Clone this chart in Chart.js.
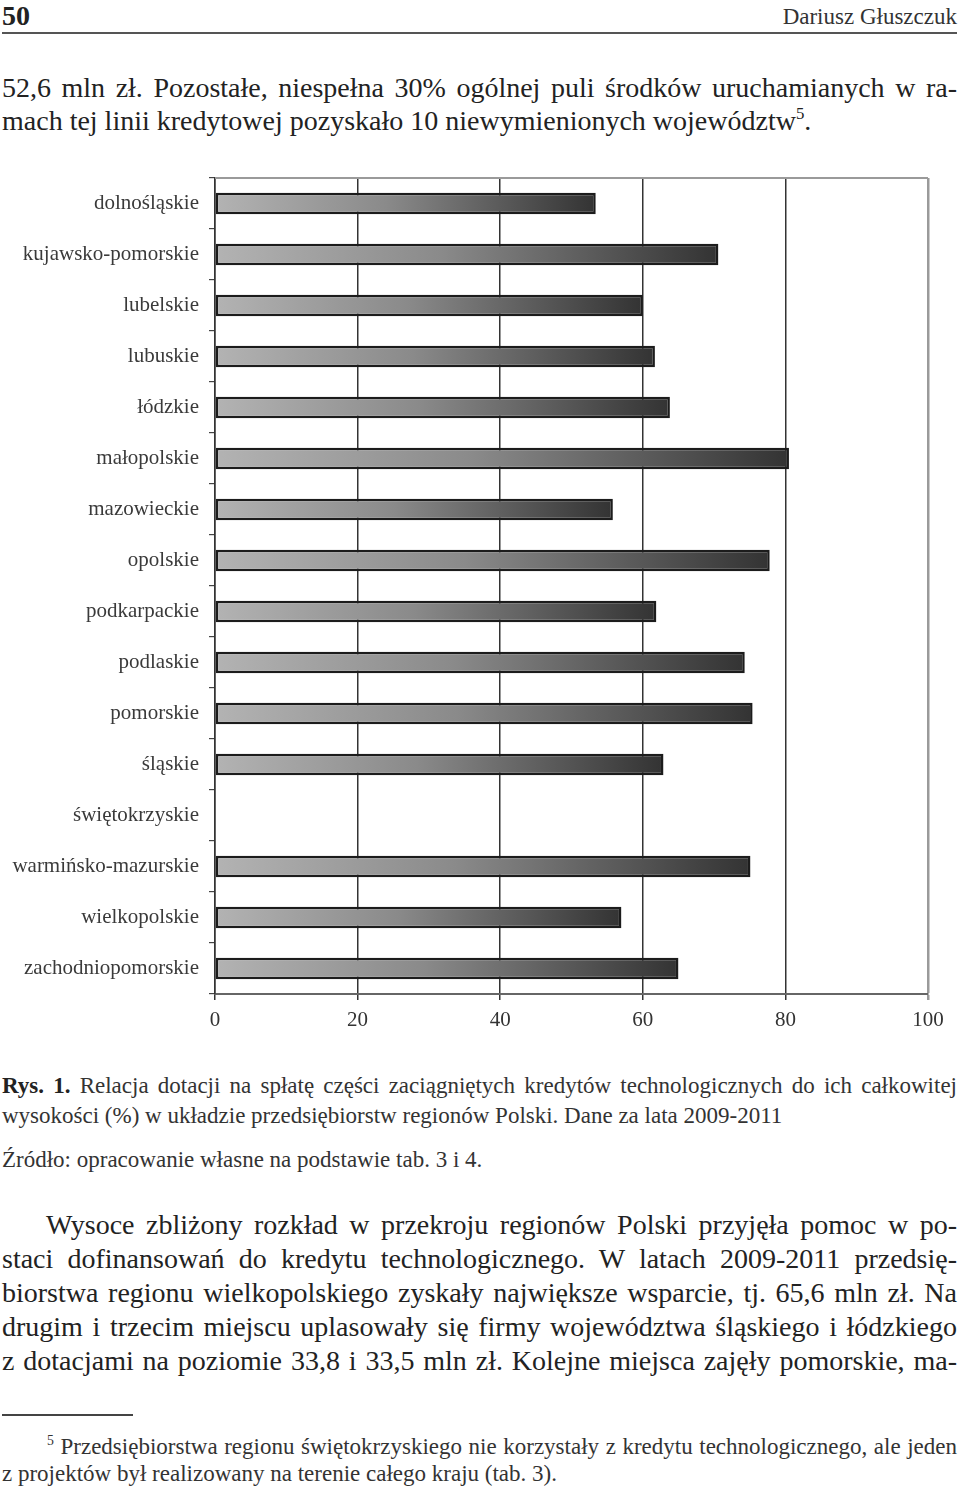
<!DOCTYPE html>
<html>
<head>
<meta charset="utf-8">
<script src="https://cdn.jsdelivr.net/npm/chart.js@4.4.1/dist/chart.umd.min.js"></script>
<style>
  body { margin: 0; background: #fff; width: 960px; height: 1492px; position: relative; overflow: hidden;
         font-family: "Liberation Serif", "Times New Roman", serif; color: #222; }
  .ln { position: absolute; left: 2px; width: 955px; white-space: nowrap; font-family: "Liberation Serif", serif; }
  .body { font-size: 28px; line-height: 34px; }
  .small { font-size: 23px; line-height: 30px; color: #333; }
  .foot { font-size: 23px; line-height: 27px; color: #333; }
  sup { font-size: 60%; vertical-align: 0.65em; line-height: 0; }
  #chartBox { position: absolute; left: 0; top: 170px; width: 960px; height: 880px; }
</style>
</head>
<body>
<div class="ln" style="top:0px; font-size:28px; line-height:32px; font-weight:bold; color:#222;">50</div>
<div class="ln" style="top:1px; font-size:23px; line-height:32px; text-align:right; color:#333;">Dariusz Głuszczuk</div>
<div style="position:absolute; left:2px; top:32px; width:955px; height:2px; background:#555;"></div>

<div class="ln body j" style="top:71px;">52,6 mln zł. Pozostałe, niespełna 30% ogólnej puli środków uruchamianych w ra-</div>
<div class="ln body" style="top:104px;">mach tej linii kredytowej pozyskało 10 niewymienionych województw<sup>5</sup>.</div>

<div id="chartBox"><canvas id="relChart" width="960" height="880"></canvas></div>

<div class="ln small j" style="top:1071px;"><b style="color:#222;">Rys. 1.</b> Relacja dotacji na spłatę części zaciągniętych kredytów technologicznych do ich całkowitej</div>
<div class="ln small" style="top:1101px;">wysokości (%) w układzie przedsiębiorstw regionów Polski. Dane za lata 2009-2011</div>
<div class="ln small" style="top:1145px;">Źródło: opracowanie własne na podstawie tab. 3 i 4.</div>

<div class="ln body j" style="top:1208px; left:46px; width:911px;">Wysoce zbliżony rozkład w przekroju regionów Polski przyjęła pomoc w po-</div>
<div class="ln body j" style="top:1242px;">staci dofinansowań do kredytu technologicznego. W latach 2009-2011 przedsię-</div>
<div class="ln body j" style="top:1276px;">biorstwa regionu wielkopolskiego zyskały największe wsparcie, tj. 65,6 mln zł. Na</div>
<div class="ln body j" style="top:1310px;">drugim i trzecim miejscu uplasowały się firmy województwa śląskiego i łódzkiego</div>
<div class="ln body j" style="top:1344px;">z dotacjami na poziomie 33,8 i 33,5 mln zł. Kolejne miejsca zajęły pomorskie, ma-</div>

<div style="position:absolute; left:2px; top:1414px; width:131px; height:2px; background:#444;"></div>
<div class="ln foot j" style="top:1433px; left:47px; width:910px;"><sup>5</sup> Przedsiębiorstwa regionu świętokrzyskiego nie korzystały z kredytu technologicznego, ale jeden</div>
<div class="ln foot" style="top:1460px;">z projektów był realizowany na terenie całego kraju (tab. 3).</div>

<script>
var regions = ["dolnośląskie", "kujawsko-pomorskie", "lubelskie", "lubuskie", "łódzkie", "małopolskie",
  "mazowieckie", "opolskie", "podkarpackie", "podlaskie", "pomorskie", "śląskie", "świętokrzyskie",
  "warmińsko-mazurskie", "wielkopolskie", "zachodniopomorskie"];
// relacja dotacji do kredytu (%), świętokrzyskie bez kredytu
var shares = [53.4, 70.6, 60.0, 61.7, 63.8, 80.5, 55.8, 77.8, 61.9, 74.3, 75.4, 62.9, null, 75.1, 57.0, 65.0];
var xTicks = [0, 20, 40, 60, 80, 100];

// justify single lines by hand (word spacing)
document.querySelectorAll(".j").forEach(function (el) {
  el.innerHTML = "<span>" + el.innerHTML + "</span>";
  var w = el.firstChild.getBoundingClientRect().width;
  var n = (el.textContent.match(/ /g) || []).length;
  if (n > 0) el.style.wordSpacing = ((el.clientWidth - w) / n) + "px";
});

function barFill(c) {
  var chart = c.chart;
  if (!chart.chartArea || c.raw == null) return "#777";
  var xs = chart.scales.x;
  var x0 = xs.getPixelForValue(0);
  var x1 = xs.getPixelForValue(c.raw);
  var g = chart.ctx.createLinearGradient(x0, 0, x1, 0);
  g.addColorStop(0, "#b3b3b3");
  g.addColorStop(0.45, "#8a8a8a");
  g.addColorStop(1, "#333333");
  return g;
}

var topFrame = {
  id: "topFrame",
  afterDraw: function (chart) {
    var a = chart.chartArea, ctx = chart.ctx;
    ctx.save();
    ctx.strokeStyle = "#9a9a9a";
    ctx.lineWidth = 2;
    ctx.beginPath();
    ctx.moveTo(a.left, a.top);
    ctx.lineTo(a.right, a.top);
    ctx.stroke();
    ctx.restore();
  }
};

var ctx = document.getElementById("relChart").getContext("2d");
var relChart = new Chart(ctx, {
  type: "bar",
  data: {
    labels: regions,
    datasets: [{
      data: shares,
      backgroundColor: barFill,
      borderColor: "#1c1c1c",
      borderWidth: 2.5,
      borderSkipped: false,
      barPercentage: 0.85,
      categoryPercentage: 0.5
    }]
  },
  options: {
    indexAxis: "y",
    responsive: false,
    animation: false,
    devicePixelRatio: 1,
    layout: { padding: { top: 8, right: 32, left: 0, bottom: 0 } },
    plugins: { legend: { display: false }, tooltip: { enabled: false } },
    scales: {
      x: {
        min: 0, max: 100,
        afterBuildTicks: function (s) { s.ticks = xTicks.map(function (v) { return { value: v }; }); },
        afterFit: function (s) { s.height = 56; },
        grid: {
          color: function (c) { return c.tick && c.tick.value === 100 ? "#9a9a9a" : "#333"; },
          lineWidth: function (c) { return c.tick && c.tick.value === 100 ? 2.5 : 1.5; },
          tickLength: 6
        },
        border: { color: "#666", width: 2 },
        ticks: { color: "#333", padding: 8, font: { family: "Liberation Serif", size: 21 } }
      },
      y: {
        afterFit: function (s) { s.width = 215; s.paddingTop = 0; s.paddingBottom = 0; },
        grid: { drawOnChartArea: false, offset: true, tickLength: 6, color: "#444", lineWidth: 1.2 },
        border: { color: "#333", width: 1.5 },
        ticks: { color: "#3a3a3a", padding: 10, font: { family: "Liberation Serif", size: 21 } }
      }
    }
  },
  plugins: [topFrame]
});
</script>
</body>
</html>
